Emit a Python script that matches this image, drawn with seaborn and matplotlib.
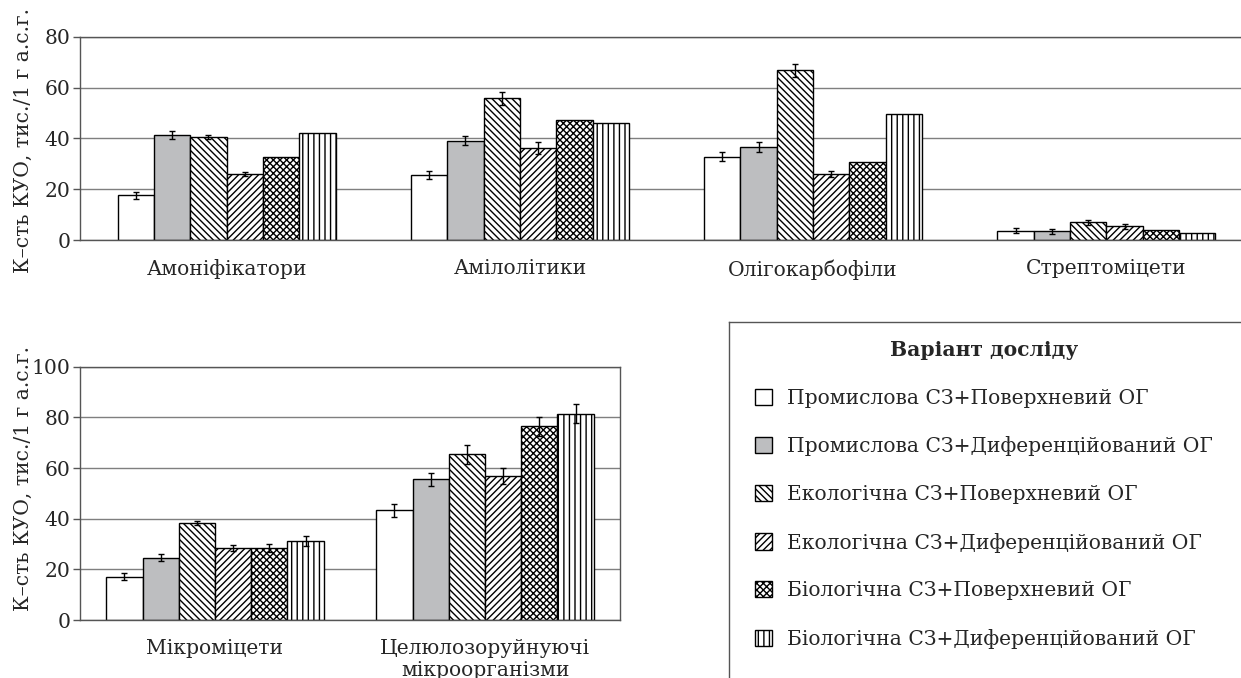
import numpy as np
import pandas as pd
import matplotlib
matplotlib.use("Agg")
import matplotlib.pyplot as plt
import matplotlib.patches as mpatches
import seaborn as sns

# Data
variants = [
    "Промислова СЗ+Поверхневий ОГ",
    "Промислова СЗ+Диференційований ОГ",
    "Екологічна СЗ+Поверхневий ОГ",
    "Екологічна СЗ+Диференційований ОГ",
    "Біологічна СЗ+Поверхневий ОГ",
    "Біологічна СЗ+Диференційований ОГ",
]

groups_top = ["Амоніфікатори", "Амілолітики", "Олігокарбофіли", "Стрептоміцети"]
groups_bottom = ["Мікроміцети", "Целюлозоруйнуючі\nмікроорганізми"]

# top chart, one list per variant (values in order of groups_top)
top_v1 = [17.6, 25.6, 32.8, 3.7]
top_v2 = [41.3, 39.1, 36.6, 3.4]
top_v3 = [40.4, 55.8, 66.8, 7.0]
top_v4 = [25.9, 36.1, 26.1, 5.4]
top_v5 = [32.6, 47.1, 30.6, 3.9]
top_v6 = [42.1, 46.2, 49.7, 2.9]

top_e1 = [1.3, 1.4, 1.7, 0.9]
top_e2 = [1.6, 1.7, 1.8, 0.9]
top_e3 = [0.8, 2.6, 2.6, 1.0]
top_e4 = [0.8, 2.4, 1.2, 1.0]
top_e5 = [np.nan, np.nan, np.nan, np.nan]
top_e6 = [np.nan, np.nan, np.nan, np.nan]

# bottom chart
bot_v1 = [17.1, 43.3]
bot_v2 = [24.6, 55.5]
bot_v3 = [38.4, 65.4]
bot_v4 = [28.3, 56.8]
bot_v5 = [28.3, 76.5]
bot_v6 = [31.1, 81.4]

bot_e1 = [1.3, 2.6]
bot_e2 = [1.3, 2.6]
bot_e3 = [0.7, 3.7]
bot_e4 = [1.2, 3.2]
bot_e5 = [1.6, 3.8]
bot_e6 = [2.0, 3.8]

# styles
colors = ["white", "#bdbec0", "white", "white", "white", "white"]
hatches = ["", "", "\\\\\\\\\\", "/////", "xxxxx", "|||"]

sns.set_style("white")
plt.rcParams["font.family"] = ["DejaVu Serif"]
plt.rcParams["hatch.linewidth"] = 1.0
plt.rcParams["hatch.color"] = "black"

FS = 14.6
GRID = "#7f7f7f"
SPINE = "#555555"


def long_df(groups, vals, errs):
    rows = []
    for v, vs, es in zip(variants, vals, errs):
        for g, y, e in zip(groups, vs, es):
            rows.append({"group": g, "variant": v, "value": y, "err": e})
    return pd.DataFrame(rows)


def draw(ax, df, groups, width, ymax, label_xy):
    sns.barplot(data=df, x="group", y="value", hue="variant", order=groups,
                hue_order=variants, palette=colors, width=width,
                edgecolor="black", linewidth=1, saturation=1,
                errorbar=None, legend=False, ax=ax)
    for cont, h, v in zip(ax.containers, hatches, variants):
        errs = df[df["variant"] == v].set_index("group").loc[groups, "err"].values
        xs, ys = [], []
        for p in cont:
            p.set_hatch(h)
            xs.append(p.get_x() + p.get_width() / 2)
            ys.append(p.get_height())
        ax.errorbar(xs, ys, yerr=errs, fmt="none", ecolor="black",
                    elinewidth=1, capsize=2.5, capthick=1)
    ax.set_xlim(-0.5, len(groups) - 0.5)
    ax.set_ylim(0, ymax)
    ax.set_yticks(np.arange(0, ymax + 1, 20))
    ax.yaxis.grid(True, color=GRID, linewidth=1)
    ax.set_axisbelow(True)
    ax.set_xlabel("")
    ax.set_ylabel("К–сть КУО, тис./1 г а.с.г.", fontsize=FS)
    ax.yaxis.set_label_coords(*label_xy)
    ax.set_xticks(np.arange(-0.5, len(groups), 1), minor=True)
    ax.tick_params(axis="x", which="major", length=0, pad=14, labelsize=FS)
    ax.tick_params(axis="x", which="minor", length=5, width=1, color=SPINE,
                   direction="out")
    ax.tick_params(axis="y", length=5, width=1, color=SPINE, pad=2,
                   labelsize=FS, direction="out", left=True)
    for t in ax.get_xticklabels():
        t.set_linespacing(1.15)
    for s in ax.spines.values():
        s.set_color(SPINE)
        s.set_linewidth(1)


fig = plt.figure(figsize=(12.41, 6.78), dpi=100)

W, H = 1241, 678
ax_top = fig.add_axes([80 / W, 1 - 240 / H, 1173 / W, 203.3 / H])
ax_bot = fig.add_axes([80 / W, 1 - 620 / H, 540 / W, 253.3 / H])

df_top = long_df(groups_top,
                 [top_v1, top_v2, top_v3, top_v4, top_v5, top_v6],
                 [top_e1, top_e2, top_e3, top_e4, top_e5, top_e6])
df_bot = long_df(groups_bottom,
                 [bot_v1, bot_v2, bot_v3, bot_v4, bot_v5, bot_v6],
                 [bot_e1, bot_e2, bot_e3, bot_e4, bot_e5, bot_e6])

draw(ax_top, df_top, groups_top, 0.743, 80, (-47 / 1173, 0.49))
draw(ax_bot, df_bot, groups_bottom, 0.805, 100, (-47 / 540, 0.56))

# legend box (cut by the figure edge like the original)
ax_box = fig.add_axes([729 / W, -0.05, 0.5, 1 - 322 / H + 0.05])
ax_box.set_xticks([])
ax_box.set_yticks([])
ax_box.patch.set_alpha(0)
ax_box.spines["right"].set_visible(False)
ax_box.spines["bottom"].set_visible(False)
for s in ["left", "top"]:
    ax_box.spines[s].set_color(SPINE)
    ax_box.spines[s].set_linewidth(1)

handles = [mpatches.Patch(facecolor=c, edgecolor="black", hatch=h, linewidth=1, label=v)
           for c, h, v in zip(colors, hatches, variants)]
fig.legend(handles=handles, loc="upper left", bbox_to_anchor=(755 / W, 1 - 340 / H),
           frameon=False, title="Варіант досліду",
           title_fontproperties={"weight": "bold", "size": FS},
           fontsize=FS, handlelength=0.85, handleheight=0.85, handletextpad=0.75,
           labelspacing=1.41, borderpad=0, borderaxespad=0)

fig.savefig("out.png", dpi=100)
